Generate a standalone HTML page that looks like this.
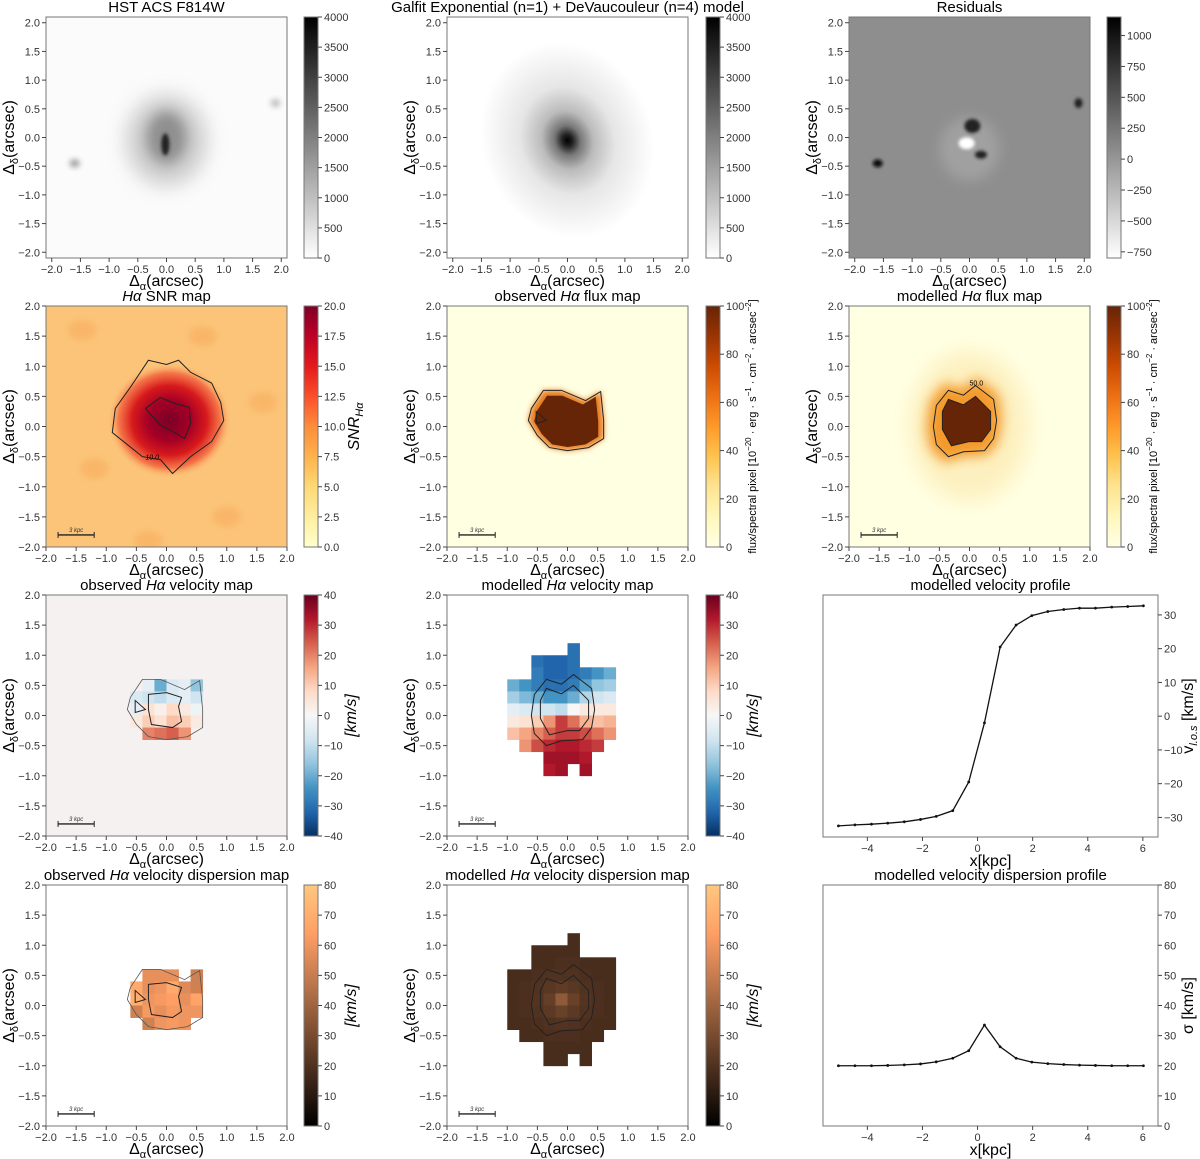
<!DOCTYPE html>
<html><head><meta charset="utf-8"><style>
html,body{margin:0;padding:0;background:#fff}
svg{display:block;font-family:"Liberation Sans","DejaVu Sans",sans-serif}
</style></head><body>
<svg id="fig" width="1200" height="1159" viewBox="0 0 1200 1159"></svg>
<script>
// ---------- data ----------
const velX=[-5.05,-4.45,-3.85,-3.26,-2.66,-2.07,-1.5,-0.9,-0.32,0.25,0.82,1.4,1.97,2.55,3.13,3.7,4.28,4.87,5.45,6.02];
const velV=[-32.5,-32.2,-32,-31.7,-31.3,-30.6,-29.7,-28,-19.5,-2,20.5,27,29.8,31,31.6,32,32,32.3,32.5,32.7];
const dispV=[20,20,20,20.1,20.3,20.6,21.3,22.5,25,33.5,26.3,22.5,21.2,20.7,20.4,20.2,20.1,20,20,20];
const velTicksX=[-4,-2,0,2,4,6];
const velTicksY=[-30,-20,-10,0,10,20,30];
const dispTicksY=[0,10,20,30,40,50,60,70,80];
const n=null;
const velModel=[
[n,n,n,n,n,-30,n,n,n],
[n,n,-30,-32,-32,-30,n,n,n],
[n,n,-28,-32,-32,-30,-28,-24,-20],
[-20,-24,-28,-30,-30,-28,-22,-16,-14],
[-14,-18,-20,-24,-24,-20,-12,-8,-6],
[-4,-6,-8,-8,-10,0,4,4,4],
[4,6,10,18,28,22,14,12,14],
[12,16,20,24,28,28,26,22,18],
[n,18,26,30,32,32,30,28,n],
[n,n,n,34,34,34,32,n,n],
[n,n,n,32,34,n,34,n,n]];
const dispModel=[
[n,n,n,n,n,18,n,n,n],
[n,n,18,18,18,18,n,n,n],
[n,n,18,18,19,19,18,18,18],
[18,18,19,20,20,20,19,18,18],
[18,19,20,22,24,22,20,19,18],
[18,19,21,25,36,26,21,19,18],
[18,19,20,23,26,23,20,19,18],
[18,18,19,20,21,20,19,18,18],
[n,18,18,19,19,19,18,18,n],
[n,n,n,18,18,18,18,n,n],
[n,n,n,18,18,n,18,n,n]];
const velObs=[
[n,n,n,n,n,n,n,n,n],[n,n,n,n,n,n,n,n,n],[n,n,n,n,n,n,n,n,n],
[n,n,n,-4,-20,-6,-4,-16,n],
[n,n,-6,-8,-10,-6,-4,-8,n],
[n,n,-4,6,2,8,4,-2,n],
[n,n,4,10,6,12,10,4,n],
[n,n,n,20,22,24,18,n,n],
[n,n,n,n,n,n,n,n,n],[n,n,n,n,n,n,n,n,n],[n,n,n,n,n,n,n,n,n]];
const dispObs=[
[n,n,n,n,n,n,n,n,n],[n,n,n,n,n,n,n,n,n],[n,n,n,n,n,n,n,n,n],
[n,n,n,58,58,58,n,52,n],
[n,n,68,58,60,68,56,52,n],
[n,n,70,60,62,64,58,66,n],
[n,n,52,62,58,62,60,60,n],
[n,n,n,52,60,62,60,n,n],
[n,n,n,n,n,n,n,n,n],[n,n,n,n,n,n,n,n,n],[n,n,n,n,n,n,n,n,n]];
const gridX0=-1.0, gridY0=1.2, cell=0.2;
const cModelOuter=[[-0.35,0.6],[-0.1,0.52],[0.1,0.68],[0.4,0.45],[0.45,0.1],[0.4,-0.2],[0.25,-0.4],[-0.1,-0.42],[-0.35,-0.5],[-0.55,-0.3],[-0.6,0],[-0.55,0.35]];
const cModelInner=[[-0.35,0.45],[-0.1,0.36],[0.1,0.5],[0.35,0.25],[0.35,-0.05],[0.2,-0.25],[0,-0.25],[-0.3,-0.32],[-0.45,-0.05],[-0.45,0.25]];
const cObsOuter=[[-0.6,0.3],[-0.4,0.6],[-0.1,0.6],[0.3,0.43],[0.55,0.58],[0.6,0.1],[0.6,-0.2],[0.35,-0.35],[0,-0.4],[-0.3,-0.35],[-0.5,-0.15],[-0.65,0.1]];
const cObsInner=[[-0.3,0.35],[0,0.38],[0.25,0.3],[0.2,0.15],[0.25,-0.1],[0.1,-0.2],[-0.25,-0.15],[-0.3,0.1]];
const cObsTri=[[-0.52,0.25],[-0.35,0.1],[-0.52,0.05]];
const cSnr10=[[-0.3,1.1],[0,1.03],[0.2,1.1],[0.4,0.9],[0.75,0.72],[0.9,0.4],[0.95,0.1],[0.75,-0.25],[0.4,-0.5],[0.1,-0.78],[-0.1,-0.55],[-0.4,-0.5],[-0.65,-0.3],[-0.9,-0.1],[-0.85,0.3],[-0.6,0.65]];
const cSnr20=[[-0.35,0.3],[-0.1,0.48],[0.15,0.38],[0.38,0.32],[0.4,0.05],[0.3,-0.2],[0.1,-0.08],[-0.1,0.02]];

// ---------- colormaps ----------
const RdBu=['#053061','#2166ac','#4393c3','#92c5de','#d1e5f0','#f7f7f7','#fddbc7','#f4a582','#d6604d','#b2182b','#67001f'];
const YlOrRd=['#ffffcc','#ffeda0','#fed976','#feb24c','#fd8d3c','#fc4e2a','#e31a1c','#bd0026','#800026'];
const YlOrBr=['#ffffe5','#fff7bc','#fee391','#fec44f','#fe9929','#ec7014','#cc4c02','#993404','#662506'];
const Copper=['#000000','#ffc77f'];
const GrayR=['#ffffff','#000000'];
function hex(c){return [parseInt(c.substr(1,2),16),parseInt(c.substr(3,2),16),parseInt(c.substr(5,2),16)];}
function cmap(stops,t){t=Math.max(0,Math.min(1,t));
  if(stops===Copper){return 'rgb('+Math.round(Math.min(1,1.25*t)*255)+','+Math.round(0.7812*t*255)+','+Math.round(0.4975*t*255)+')';}
  const f=t*(stops.length-1),i=Math.min(stops.length-2,Math.floor(f)),u=f-i;const a=hex(stops[i]),b=hex(stops[i+1]);
  return 'rgb('+[0,1,2].map(k=>Math.round(a[k]+(b[k]-a[k])*u)).join(',')+')';}

// ---------- helpers ----------
const NS='http://www.w3.org/2000/svg';
const svg=document.getElementById('fig');
const defs=document.createElementNS(NS,'defs');svg.appendChild(defs);
function mk(tag,attrs,parent){const e=document.createElementNS(NS,tag);for(const k in attrs)e.setAttribute(k,attrs[k]);(parent||svg).appendChild(e);return e;}
function txt(s,attrs,parent){const e=mk('text',attrs,parent);e.textContent=s;return e;}
function fmt(v,d){return (v<0?'\u2212':'')+Math.abs(v).toFixed(d);}
[1.5,3,6,10].forEach(s=>{const f=mk('filter',{id:'b'+String(s).replace('.','_'),x:'-50%',y:'-50%',width:'200%',height:'200%'},defs);mk('feGaussianBlur',{stdDeviation:s},f);});
let clipId=0;

const W=241;
function mapAxes(x0,y0,lo,hi,ticks,title,name){
  const sx=v=>x0+(v-lo)/(hi-lo)*W, sy=v=>y0+W-(v-lo)/(hi-lo)*W;
  const cid='c'+(clipId++);const cp=mk('clipPath',{id:cid},defs);mk('rect',{x:x0,y:y0,width:W,height:W},cp);
  const g=mk('g',{'clip-path':'url(#'+cid+')'});
  
  
  const fr=mk('g',{});
  
  
  mk('rect',{x:x0,y:y0,width:W,height:W,fill:'none',stroke:'#777','stroke-width':1},fr);
  ticks.forEach(t=>{
    mk('line',{x1:sx(t),x2:sx(t),y1:y0+W,y2:y0+W+4,stroke:'#444'},fr);
    txt(fmt(t,1),{x:sx(t),y:y0+W+15,'font-size':11,'text-anchor':'middle',fill:'#333'},fr);
    mk('line',{x1:x0-4,x2:x0,y1:sy(t),y2:sy(t),stroke:'#444'},fr);
    txt(fmt(t,1),{x:x0-6,y:sy(t)+4,'font-size':11,'text-anchor':'end',fill:'#333'},fr);
  });
  const xl=txt('',{x:x0+W/2,y:y0+W+28,'font-size':16,'text-anchor':'middle'},fr);
  xl.innerHTML='Δ<tspan font-size="11" dy="4">α</tspan><tspan dy="-4">(arcsec)</tspan>';
  
  
  const yl=txt('',{transform:'translate('+(x0-32)+','+(y0+W/2)+') rotate(-90)','font-size':16,'text-anchor':'middle'},fr);
  yl.innerHTML='Δ<tspan font-size="11" dy="4">δ</tspan><tspan dy="-4">(arcsec)</tspan>';
  
  
  const tt=txt('',{x:x0+W/2,y:y0-5,'font-size':15,'text-anchor':'middle'},fr);
  tt.innerHTML=title;
  
  
  return {sx,sy,g,fr};
}
function colorbar(x,y,stops,lo,hi,ticks,dec,label,lx,lsize,name){
  const gid='g'+(clipId++);const lg=mk('linearGradient',{id:gid,x1:0,y1:1,x2:0,y2:0},defs);
  for(let i=0;i<=20;i++)mk('stop',{offset:i/20,'stop-color':cmap(stops,i/20)},lg);
  const g=mk('g',{});
  
  
  mk('rect',{x:x,y:y,width:14,height:W,fill:'url(#'+gid+')',stroke:'#777'},g);
  ticks.forEach(t=>{const yy=y+W-(t-lo)/(hi-lo)*W;
    mk('line',{x1:x+14,x2:x+18,y1:yy,y2:yy,stroke:'#444'},g);
    txt(fmt(t,dec),{x:x+20,y:yy+4,'font-size':11,fill:'#333'},g);});
  if(label){const l=txt('',{transform:'translate('+lx+','+(y+W/2)+') rotate(-90)','font-size':lsize,'text-anchor':'middle'},g);l.innerHTML=label;
    
    }
}
function grid(ax,arr,stops,lo,hi){
  arr.forEach((row,r)=>row.forEach((v,c)=>{if(v===null)return;
    const x=gridX0+c*cell,yT=gridY0-r*cell;
    const e=mk('rect',{x:ax.sx(x),y:ax.sy(yT),width:ax.sx(x+cell)-ax.sx(x)+0.4,height:ax.sy(yT-cell)-ax.sy(yT)+0.4,fill:cmap(stops,(v-lo)/(hi-lo))},ax.g);
    
    
  }));
}
function contour(ax,pts,w,col){return mk('polygon',{points:pts.map(p=>ax.sx(p[0])+','+ax.sy(p[1])).join(' '),fill:'none',stroke:col||'#222','stroke-width':w||1},ax.g);}
function scalebar(ax){const g=mk('g',{},ax.g);
  
  
  const y=ax.sy(-1.8),a=ax.sx(-1.8),b=ax.sx(-1.2);
  mk('line',{x1:a,x2:b,y1:y,y2:y,stroke:'#222','stroke-width':1.3},g);
  mk('line',{x1:a,x2:a,y1:y-3,y2:y+3,stroke:'#222'},g);mk('line',{x1:b,x2:b,y1:y-3,y2:y+3,stroke:'#222'},g);
  txt('3 kpc',{x:(a+b)/2,y:y-3,'font-size':6,'font-style':'italic','text-anchor':'middle',fill:'#333'},g);}

const rows=[17,306,595,885], cols=[46,447,849], cbx=[304,706,1107];
const t21=[-2,-1.5,-1,-0.5,0,0.5,1,1.5,2];
const ha='<tspan font-style="italic">H</tspan><tspan font-style="italic">α</tspan>';

// ---------- row 1 ----------
let ax=mapAxes(cols[0],rows[0],-2.1,2.1,t21,'HST ACS F814W','hst-image');
mk('rect',{x:0,y:0,width:1200,height:1200,fill:'#fbfbfb'},ax.g);
mk('ellipse',{cx:ax.sx(0),cy:ax.sy(-0.05),rx:40,ry:45,fill:'#b5b5b5',opacity:0.7,filter:'url(#b10)'},ax.g);
mk('ellipse',{cx:ax.sx(0),cy:ax.sy(0),rx:20,ry:26,fill:'#777',opacity:0.7,filter:'url(#b6)'},ax.g);
mk('ellipse',{cx:ax.sx(-0.02),cy:ax.sy(-0.12),rx:4,ry:11,fill:'#222',filter:'url(#b1_5)'},ax.g);
mk('ellipse',{cx:ax.sx(-1.6),cy:ax.sy(-0.45),rx:5,ry:4,fill:'#999',filter:'url(#b3)'},ax.g);
mk('ellipse',{cx:ax.sx(1.9),cy:ax.sy(0.6),rx:5,ry:4,fill:'#bbb',filter:'url(#b3)'},ax.g);
colorbar(cbx[0],rows[0],GrayR,0,4000,[0,500,1000,1500,2000,2500,3000,3500,4000],0,null,0,0,'hst');

ax=mapAxes(cols[1],rows[0],-2.1,2.1,t21,'Galfit Exponential (n=1) + DeVaucouleur (n=4) model','galfit-model');
const rg=mk('radialGradient',{id:'gal'},defs);
[[0,'#000'],[0.06,'#222'],[0.15,'#777'],[0.3,'#bbb'],[0.55,'#e6e6e6'],[1,'#fff']].forEach(s=>mk('stop',{offset:s[0],'stop-color':s[1]},rg));
mk('rect',{x:0,y:0,width:1200,height:1200,fill:'#fff'},ax.g);
mk('ellipse',{cx:ax.sx(0),cy:ax.sy(-0.05),rx:85,ry:100,fill:'url(#gal)',transform:'rotate(-20 '+ax.sx(0)+' '+ax.sy(-0.05)+')'},ax.g);
colorbar(cbx[1],rows[0],GrayR,0,4000,[0,500,1000,1500,2000,2500,3000,3500,4000],0,null,0,0,'galfit');

ax=mapAxes(cols[2],rows[0],-2.1,2.1,t21,'Residuals','residuals');
mk('rect',{x:0,y:0,width:1200,height:1200,fill:'#8e8e8e'},ax.g);
mk('ellipse',{cx:ax.sx(0),cy:ax.sy(-0.2),rx:30,ry:32,fill:'#a0a0a0',filter:'url(#b6)'},ax.g);
mk('ellipse',{cx:ax.sx(-0.05),cy:ax.sy(-0.1),rx:8,ry:6,fill:'#fff',filter:'url(#b1_5)'},ax.g);
mk('ellipse',{cx:ax.sx(0.05),cy:ax.sy(0.2),rx:8,ry:7,fill:'#222',filter:'url(#b1_5)'},ax.g);
mk('ellipse',{cx:ax.sx(0.2),cy:ax.sy(-0.3),rx:6,ry:4,fill:'#222',filter:'url(#b1_5)'},ax.g);
mk('ellipse',{cx:ax.sx(-1.6),cy:ax.sy(-0.45),rx:5,ry:4,fill:'#111',filter:'url(#b1_5)'},ax.g);
mk('ellipse',{cx:ax.sx(1.9),cy:ax.sy(0.6),rx:4,ry:5,fill:'#222',filter:'url(#b1_5)'},ax.g);
colorbar(cbx[2],rows[0],GrayR,-800,1150,[-750,-500,-250,0,250,500,750,1000],0,null,0,0,'residuals');

// ---------- row 2 ----------
const t2=[-2,-1.5,-1,-0.5,0,0.5,1,1.5,2];
ax=mapAxes(cols[0],rows[1],-2,2,t2,ha+' SNR map','snr-map');
mk('rect',{x:0,y:0,width:1200,height:1200,fill:'#fbc478'},ax.g);
[[-1.4,1.6],[0.6,1.5],[-1.2,-0.7],[1.0,-1.5],[-0.3,-1.9],[1.6,0.4]].forEach(p=>mk('ellipse',{cx:ax.sx(p[0]),cy:ax.sy(p[1]),rx:14,ry:10,fill:'#f9ad5e',opacity:0.6,filter:'url(#b3)'},ax.g));
const sg=mk('radialGradient',{id:'snr'},defs);
[[0,'#7a0026',1],[0.35,'#a50026',1],[0.6,'#d7191c',1],[0.82,'#f46d43',0.9],[1,'#fbc478',0]].forEach(s=>mk('stop',{offset:s[0],'stop-color':s[1],'stop-opacity':s[2]},sg));
mk('ellipse',{cx:ax.sx(0.05),cy:ax.sy(0.1),rx:62,ry:58,fill:'url(#snr)'},ax.g);
contour(ax,cSnr10,1);contour(ax,cSnr20,1);
txt('10.0',{x:ax.sx(-0.35),y:ax.sy(-0.55),'font-size':7,'font-style':'italic'},ax.g);
scalebar(ax);
colorbar(cbx[0],rows[1],YlOrRd,0,20,[0,2.5,5,7.5,10,12.5,15,17.5,20],1,'<tspan font-style="italic">SNR</tspan><tspan font-size="11" dy="4" font-style="italic">Hα</tspan>',cbx[0]+55,16,'snr');

const fluxLabel='flux/spectral pixel [10<tspan font-size="8" dy="-5">−20</tspan><tspan dy="5"> · erg · s</tspan><tspan font-size="8" dy="-5">−1</tspan><tspan dy="5"> · cm</tspan><tspan font-size="8" dy="-5">−2</tspan><tspan dy="5"> · arcsec</tspan><tspan font-size="8" dy="-5">−2</tspan><tspan dy="5">]</tspan>';
ax=mapAxes(cols[1],rows[1],-2,2,t2,'observed '+ha+' flux map','obs-flux-map');
mk('rect',{x:0,y:0,width:1200,height:1200,fill:'#ffffe2'},ax.g);
mk('polygon',{points:cObsOuter.map(p=>ax.sx(p[0])+','+ax.sy(p[1])).join(' '),fill:'#e67a1a',filter:'url(#b3)'},ax.g);
mk('polygon',{points:cObsOuter.map(p=>ax.sx(p[0]*0.85)+','+ax.sy(p[1]*0.85)).join(' '),fill:'#662506'},ax.g);
contour(ax,cObsOuter,1);contour(ax,cObsTri,1);
scalebar(ax);
colorbar(cbx[1],rows[1],YlOrBr,0,100,[0,20,40,60,80,100],0,fluxLabel,cbx[1]+50,11,'obs-flux');

ax=mapAxes(cols[2],rows[1],-2,2,t2,'modelled '+ha+' flux map','model-flux-map');
mk('rect',{x:0,y:0,width:1200,height:1200,fill:'#ffffe2'},ax.g);
mk('ellipse',{cx:ax.sx(0),cy:ax.sy(0),rx:60,ry:75,fill:'#fdf0c0',filter:'url(#b10)'},ax.g);
mk('polygon',{points:cModelOuter.map(p=>ax.sx(p[0]*1.2)+','+ax.sy(p[1]*1.2)).join(' '),fill:'#f39a2c',filter:'url(#b6)'},ax.g);
mk('polygon',{points:cModelInner.map(p=>ax.sx(p[0])+','+ax.sy(p[1])).join(' '),fill:'#662506'},ax.g);
contour(ax,cModelOuter,1);contour(ax,cModelInner,1);
txt('50.0',{x:ax.sx(0),y:ax.sy(0.68),'font-size':7},ax.g);
scalebar(ax);
colorbar(cbx[2],rows[1],YlOrBr,0,100,[0,20,40,60,80,100],0,fluxLabel,cbx[2]+50,11,'model-flux');

// ---------- row 3 ----------
const kms='<tspan font-style="italic">[km/s]</tspan>';
ax=mapAxes(cols[0],rows[2],-2,2,t2,'observed '+ha+' velocity map','obs-velocity-map');
mk('rect',{x:0,y:0,width:1200,height:1200,fill:'#f5f1f1'},ax.g);
grid(ax,velObs,RdBu,-40,40);
contour(ax,cObsOuter,0.8,'#555');contour(ax,cObsInner,1);contour(ax,cObsTri,1);
scalebar(ax);
colorbar(cbx[0],rows[2],RdBu,-40,40,[-40,-30,-20,-10,0,10,20,30,40],0,kms,cbx[0]+52,16,'obs-velocity');

ax=mapAxes(cols[1],rows[2],-2,2,t2,'modelled '+ha+' velocity map','model-velocity-map');
mk('rect',{x:0,y:0,width:1200,height:1200,fill:'#fff'},ax.g);
grid(ax,velModel,RdBu,-40,40);
contour(ax,cModelOuter,1);contour(ax,cModelInner,1);
scalebar(ax);
colorbar(cbx[1],rows[2],RdBu,-40,40,[-40,-30,-20,-10,0,10,20,30,40],0,kms,cbx[1]+52,16,'model-velocity');

// ---------- row 4 ----------
ax=mapAxes(cols[0],rows[3],-2,2,t2,'observed '+ha+' velocity dispersion map','obs-dispersion-map');
mk('rect',{x:0,y:0,width:1200,height:1200,fill:'#fff'},ax.g);
grid(ax,dispObs,Copper,0,80);
contour(ax,cObsOuter,0.8,'#555');contour(ax,cObsInner,1);contour(ax,cObsTri,1);
scalebar(ax);
colorbar(cbx[0],rows[3],Copper,0,80,[0,10,20,30,40,50,60,70,80],0,kms,cbx[0]+52,16,'obs-dispersion');

ax=mapAxes(cols[1],rows[3],-2,2,t2,'modelled '+ha+' velocity dispersion map','model-dispersion-map');
mk('rect',{x:0,y:0,width:1200,height:1200,fill:'#fff'},ax.g);
grid(ax,dispModel,Copper,0,80);
contour(ax,cModelOuter,1);contour(ax,cModelInner,1);
scalebar(ax);
colorbar(cbx[1],rows[3],Copper,0,80,[0,10,20,30,40,50,60,70,80],0,kms,cbx[1]+52,16,'model-dispersion');

// ---------- profiles ----------
function profile(y0,h,ylo,yhi,vals,yt,title,ylabel,name){
  const x0=823,w=335,xlo=-5.61,xhi=6.55;
  const sx=v=>x0+(v-xlo)/(xhi-xlo)*w, sy=v=>y0+h-(v-ylo)/(yhi-ylo)*h;
  const g=mk('g',{});
  
  
  mk('rect',{x:x0,y:y0,width:w,height:h,fill:'#fff',stroke:'#777'},g);
  velTicksX.forEach(t=>{mk('line',{x1:sx(t),x2:sx(t),y1:y0+h,y2:y0+h+4,stroke:'#444'},g);
    txt(fmt(t,0),{x:sx(t),y:y0+h+15,'font-size':11,'text-anchor':'middle',fill:'#333'},g);});
  yt.forEach(t=>{mk('line',{x1:x0+w,x2:x0+w+4,y1:sy(t),y2:sy(t),stroke:'#444'},g);
    txt(fmt(t,0),{x:x0+w+6,y:sy(t)+4,'font-size':11,fill:'#333'},g);});
  const line=mk('polyline',{points:velX.map((x,i)=>sx(x)+','+sy(vals[i])).join(' '),fill:'none',stroke:'#111','stroke-width':1.3},g);
  
  
  velX.forEach((x,i)=>{const c=mk('circle',{cx:sx(x),cy:sy(vals[i]),r:1.4,fill:'#111'},g);
    
    });
  const tt=txt(title,{x:x0+w/2,y:y0-5,'font-size':15,'text-anchor':'middle'},g);
  
  
  const xl=txt('x[kpc]',{x:x0+w/2,y:y0+h+29,'font-size':16,'text-anchor':'middle'},g);
  
  
  const yl=txt('',{transform:'translate(1193,'+(y0+h/2)+') rotate(-90)','font-size':16,'text-anchor':'middle'},g);
  yl.innerHTML=ylabel;
  
  
}
profile(595,242,-35.8,35.9,velV,velTicksY,'modelled velocity profile','v<tspan font-size="11" dy="4" font-style="italic">l.o.s</tspan><tspan dy="-4"> [km/s]</tspan>','velocity-profile');
profile(885,241,0,80,dispV,dispTicksY,'modelled velocity dispersion profile','σ [km/s]','dispersion-profile');
</script>
</body></html>
